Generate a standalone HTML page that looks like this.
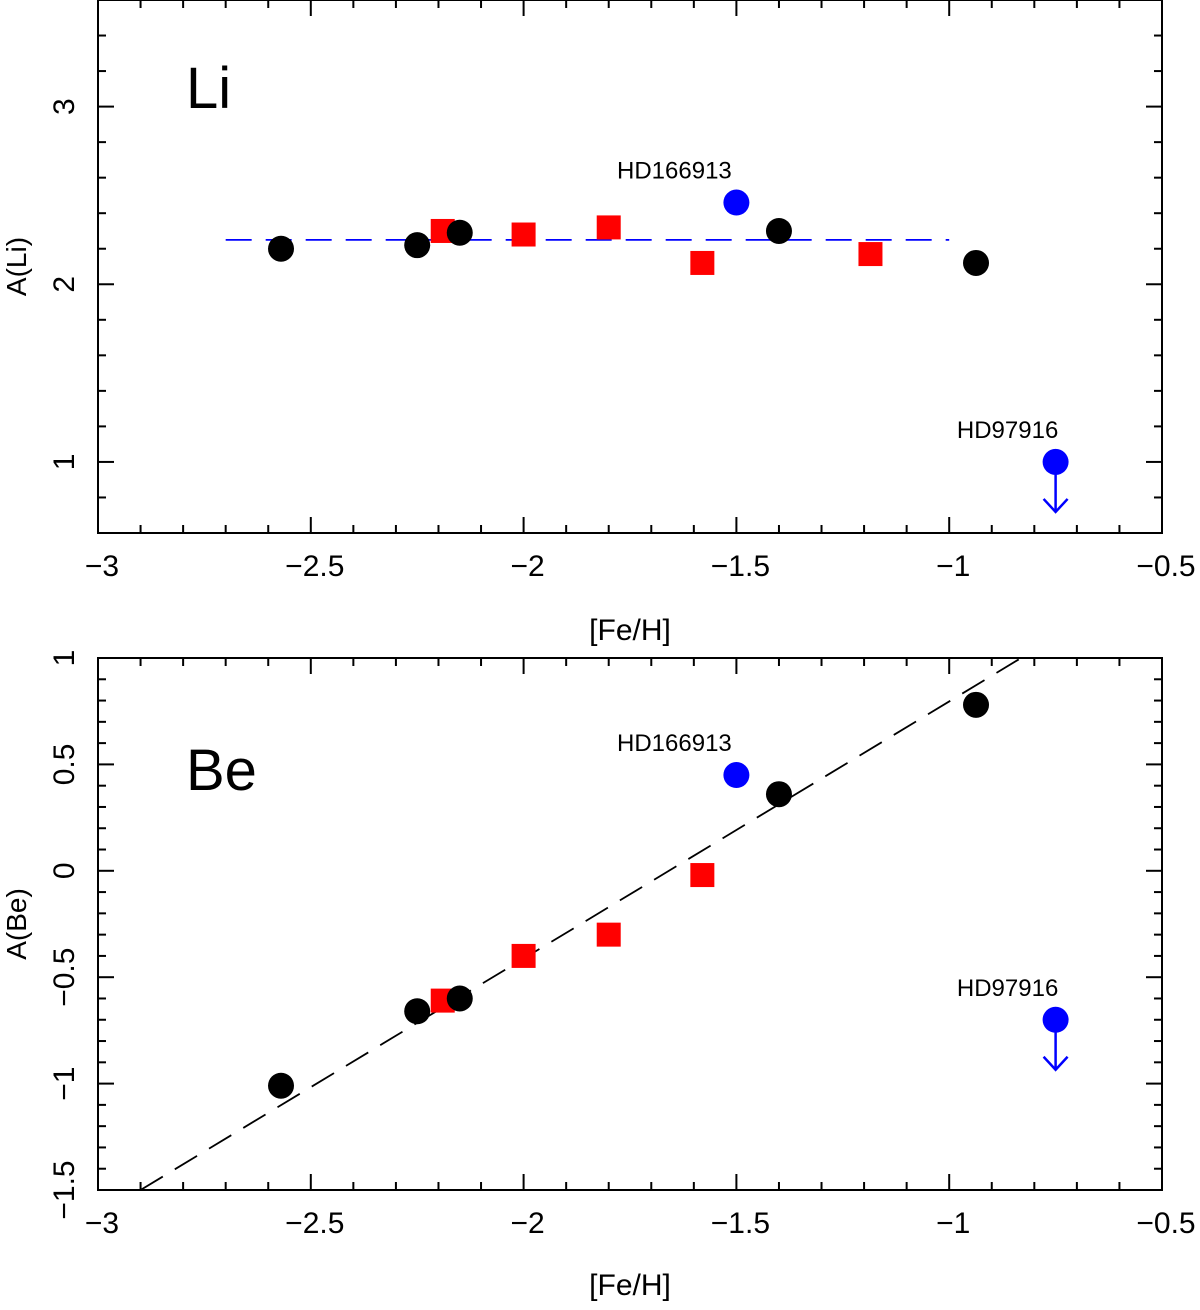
<!DOCTYPE html>
<html><head><meta charset="utf-8"><style>
html,body{margin:0;padding:0;background:#fff;}
svg text{font-family:"Liberation Sans",sans-serif;fill:#000;}
</style></head><body>
<svg id="chart" width="1200" height="1305" viewBox="0 0 1200 1305" xmlns="http://www.w3.org/2000/svg"></svg>
<script>
const xTicks=[-3,-2.5,-2,-1.5,-1,-0.5];
const liTicks=[1,2,3];
const beTicks=[1,0.5,0,-0.5,-1,-1.5];
const blackFe=[-2.57,-2.25,-2.15,-1.4,-0.937];
const blackLi=[2.2,2.22,2.29,2.3,2.12];
const blackBe=[-1.01,-0.66,-0.6,0.36,0.78];
const redFeLi=[-2.19,-2.0,-1.8,-1.58,-1.185];
const redLi=[2.3,2.28,2.32,2.12,2.17];
const redFeBe=[-2.19,-2.0,-1.8,-1.58];
const redBe=[-0.61,-0.4,-0.3,-0.02];
const blueFe=[-1.5,-0.75];
const blueLi=[2.46,1.0];
const blueBe=[0.45,-0.7];
const blueNames=["HD166913","HD97916"];
const liFit=[2.25,2.25];
const liFitFe=[-2.7,-1.0];
const beFitFe=[-2.9,-0.5];
const beFit=[-1.5,1.4];

const NS="http://www.w3.org/2000/svg";
const svg=document.getElementById('chart');
function mk(tag,attrs,parent){const e=document.createElementNS(NS,tag);for(const k in attrs)e.setAttribute(k,attrs[k]);(parent||svg).appendChild(e);return e;}
const X0=98,X1=1162;
const sx=v=>X0+(v+3)/2.5*(X1-X0);

function panel(name,top,bottom,ymin,ymax,yTicks,minorStep,yTitle,xTitleY,elemLabel,ys,redFe,redY,blueY,fitFe,fitY,fitColor){
  const g=mk('g',{});
  
  
  const sy=v=>bottom-(v-ymin)/(ymax-ymin)*(bottom-top);
  const clip=mk('clipPath',{id:'c'+name},g);mk('rect',{x:X0,y:top,width:X1-X0,height:bottom-top},clip);
  const fr=mk('rect',{x:X0,y:top,width:X1-X0,height:bottom-top,fill:'none',stroke:'#000','stroke-width':2},g);
  
  
  for(let i=0;i<=25;i++){const v=-3+i*0.1;const x=sx(v);const L=(i%5==0)?16:8;
    mk('line',{x1:x,y1:bottom,x2:x,y2:bottom-L,stroke:'#000','stroke-width':2},g);
    mk('line',{x1:x,y1:top,x2:x,y2:top+L,stroke:'#000','stroke-width':2},g);}
  xTicks.forEach(v=>{const t=mk('text',{x:sx(v)+4,y:bottom+43,'font-size':30,'text-anchor':'middle'},g);t.textContent=(v<0?'\u2212':'')+Math.abs(v);
    
    });
  const n=Math.round((ymax-ymin)/minorStep);
  for(let i=0;i<=n;i++){const v=ymin+i*minorStep;const y=sy(v);
    const major=yTicks.some(t=>Math.abs(t-v)<1e-6);const L=major?16:8;
    mk('line',{x1:X0,y1:y,x2:X0+L,y2:y,stroke:'#000','stroke-width':2},g);
    mk('line',{x1:X1,y1:y,x2:X1-L,y2:y,stroke:'#000','stroke-width':2},g);}
  yTicks.forEach(v=>{const y=sy(v);const t=mk('text',{x:0,y:0,'font-size':30,'text-anchor':'middle',transform:`translate(74,${y}) rotate(-90)`},g);t.textContent=(v<0?'\u2212':'')+Math.abs(v);
    
    });
  const yt=mk('text',{x:0,y:0,'font-size':28,'text-anchor':'middle',transform:`translate(26,${(top+bottom)/2}) rotate(-90)`},g);yt.textContent=yTitle;
  
  
  const xt=mk('text',{x:630,y:xTitleY,'font-size':30,'text-anchor':'middle'},g);xt.textContent='[Fe/H]';
  
  
  const el=mk('text',{x:186,y:top===0?108:790,'font-size':58,'font-weight':'200','font-family':'"DejaVu Sans", sans-serif'},g);el.textContent=elemLabel;
  
  
  const fl=mk('line',{x1:sx(fitFe[0]),y1:sy(fitY[0]),x2:sx(fitFe[1]),y2:sy(fitY[1]),stroke:fitColor,'stroke-width':1.8,'stroke-dasharray':'26,14','clip-path':`url(#c${name})`},g);
  
  
  redFe.forEach((v,i)=>{const r=mk('rect',{x:sx(v)-12,y:sy(redY[i])-12,width:24,height:24,fill:'#ff0000'},g);
    
    });
  blackFe.forEach((v,i)=>{const c=mk('circle',{cx:sx(v),cy:sy(ys[i]),r:13,fill:'#000'},g);
    
    });
  blueFe.forEach((v,i)=>{const cx=sx(v),cy=sy(blueY[i]);
    const c=mk('circle',{cx:cx,cy:cy,r:13,fill:'#0000ff'},g);
    
    
    const lb=mk('text',{x:cx-(i==0?62:48),y:cy-24,'font-size':24,'text-anchor':'middle'},g);lb.textContent=blueNames[i];
    
    
    if(i==1){const a=mk('path',{d:`M${cx},${cy} V${cy+50} M${cx-12},${cy+37} L${cx},${cy+50} L${cx+12},${cy+37}`,stroke:'#0000ff','stroke-width':2.5,fill:'none'},g);
      
      }
  });
}
panel('li',0,533,0.6,3.6,liTicks,0.2,'A(Li)',640,'Li',blackLi,redFeLi,redLi,blueLi,liFitFe,liFit,'#0000ff');
panel('be',658,1190,-1.5,1,beTicks,0.1,'A(Be)',1295,'Be',blackBe,redFeBe,redBe,blueBe,beFitFe,beFit,'#000');
</script>
</body></html>
